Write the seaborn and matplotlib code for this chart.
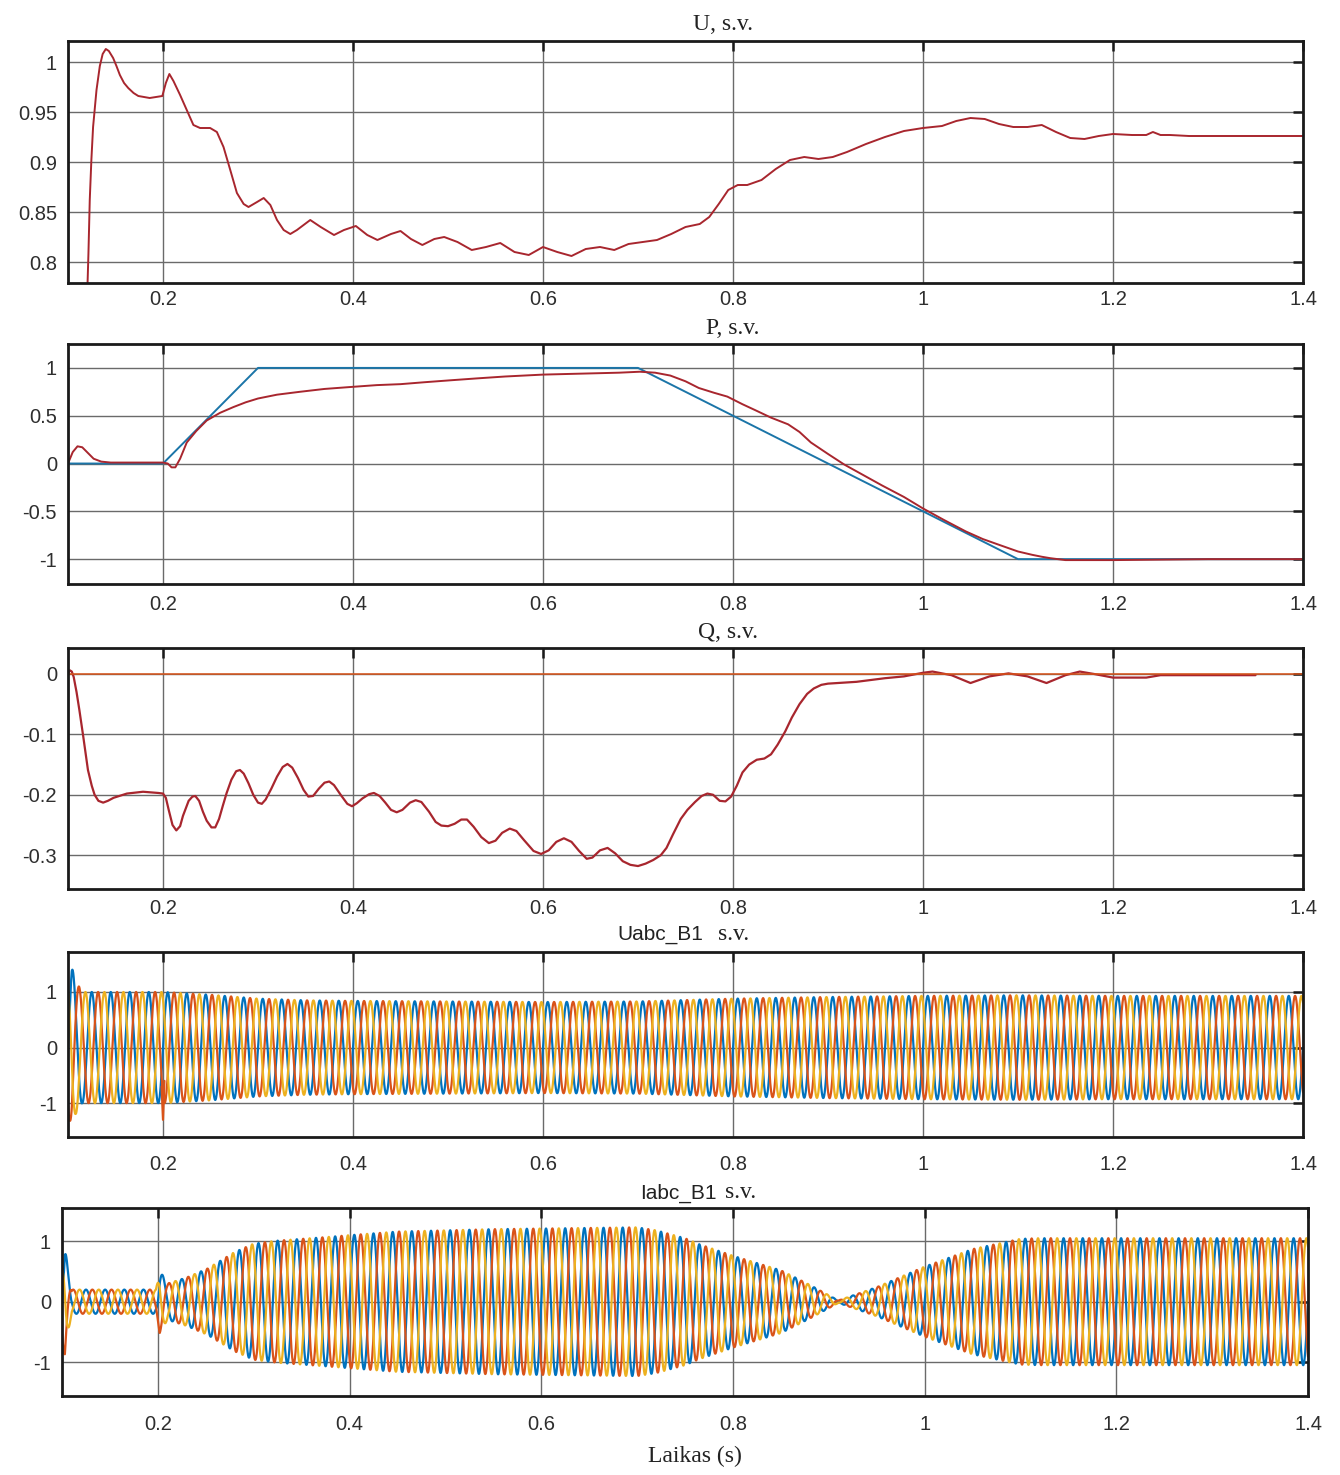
import numpy as np
import pandas as pd
import matplotlib
matplotlib.use("Agg")
import matplotlib.pyplot as plt
import seaborn as sns

# ---------------- data (per-unit, time in seconds) ----------------
# Bus voltage magnitude U
u_t = [0.1190, 0.1200, 0.1215, 0.1229, 0.1246, 0.1264, 0.1300, 0.1335, 0.1365, 0.1398,
       0.1430, 0.1475, 0.1510, 0.1546, 0.1590, 0.1634, 0.1690, 0.1740, 0.1860, 0.1993,
       0.2030, 0.2067, 0.2110, 0.2180, 0.2250, 0.2320, 0.2390, 0.2496, 0.2567, 0.2637,
       0.2708, 0.2778, 0.2849, 0.2900, 0.2990, 0.3060, 0.3130, 0.3200, 0.3270, 0.3340,
       0.3410, 0.3550, 0.3660, 0.3800, 0.3905, 0.4030, 0.4150, 0.4257, 0.4400, 0.4500,
       0.4610, 0.4730, 0.4856, 0.4960, 0.5100, 0.5250, 0.5400, 0.5550, 0.5700, 0.5850,
       0.6000, 0.6150, 0.6300, 0.6450, 0.6600, 0.6750, 0.6900, 0.7050, 0.7200, 0.7350,
       0.7500, 0.7650, 0.7750, 0.7850, 0.7950, 0.8050, 0.8150, 0.8300, 0.8450, 0.8600,
       0.8750, 0.8900, 0.9050, 0.9200, 0.9400, 0.9600, 0.9800, 1.0000, 1.0200, 1.0350,
       1.0500, 1.0650, 1.0800, 1.0950, 1.1100, 1.1250, 1.1400, 1.1550, 1.1700, 1.1850,
       1.2000, 1.2200, 1.2350, 1.2420, 1.2500, 1.2600, 1.2800, 1.3000, 1.3500, 1.4000]
u_v = [0.700, 0.760, 0.808, 0.862, 0.902, 0.935, 0.972, 0.996, 1.008, 1.013,
       1.011, 1.004, 0.996, 0.987, 0.979, 0.974, 0.969, 0.966, 0.964, 0.966,
       0.979, 0.988, 0.981, 0.967, 0.952, 0.937, 0.934, 0.934, 0.930, 0.915,
       0.892, 0.869, 0.858, 0.855, 0.860, 0.864, 0.857, 0.842, 0.832, 0.828,
       0.832, 0.842, 0.835, 0.827, 0.832, 0.836, 0.827, 0.822, 0.828, 0.831,
       0.823, 0.817, 0.823, 0.825, 0.820, 0.812, 0.815, 0.819, 0.810, 0.807,
       0.815, 0.810, 0.806, 0.813, 0.815, 0.812, 0.818, 0.820, 0.822, 0.828,
       0.835, 0.838, 0.845, 0.858, 0.872, 0.877, 0.877, 0.882, 0.893, 0.902,
       0.905, 0.903, 0.905, 0.910, 0.918, 0.925, 0.931, 0.934, 0.936, 0.941,
       0.944, 0.943, 0.938, 0.935, 0.935, 0.937, 0.930, 0.924, 0.923, 0.926,
       0.928, 0.927, 0.927, 0.930, 0.927, 0.927, 0.926, 0.926, 0.926, 0.926]

# Active power: reference and measured
p_ref_t = [0.10, 0.20, 0.30, 0.70, 1.10, 1.40]
p_ref_v = [0.0, 0.0, 1.0, 1.0, -1.0, -1.0]
p_t = [0.100, 0.105, 0.110, 0.115, 0.120, 0.127, 0.135, 0.145, 0.160, 0.180,
       0.200, 0.205, 0.209, 0.213, 0.218, 0.225, 0.235, 0.246, 0.260, 0.274,
       0.287, 0.300, 0.320, 0.344, 0.370, 0.397, 0.425, 0.450, 0.475, 0.502,
       0.530, 0.560, 0.600, 0.640, 0.680, 0.702, 0.718, 0.734, 0.750, 0.764,
       0.780, 0.794, 0.810, 0.823, 0.840, 0.858, 0.870, 0.882, 0.900, 0.917,
       0.937, 0.957, 0.980, 1.000, 1.022, 1.045, 1.063, 1.080, 1.100, 1.115,
       1.125, 1.134, 1.150, 1.200, 1.300, 1.400]
p_v = [0.00, 0.12, 0.18, 0.17, 0.12, 0.05, 0.02, 0.01, 0.01, 0.01,
       0.01, 0.00, -0.04, -0.04, 0.05, 0.22, 0.34, 0.45, 0.53, 0.59,
       0.64, 0.68, 0.72, 0.75, 0.78, 0.80, 0.82, 0.83, 0.85, 0.87,
       0.89, 0.91, 0.93, 0.94, 0.95, 0.96, 0.95, 0.92, 0.86, 0.79,
       0.74, 0.70, 0.62, 0.56, 0.48, 0.41, 0.33, 0.22, 0.10, -0.01,
       -0.12, -0.23, -0.35, -0.47, -0.59, -0.71, -0.79, -0.85, -0.92, -0.955,
       -0.975, -0.99, -1.01, -1.01, -1.00, -1.00]

# Reactive power: reference and measured
q_ref_t = [0.10, 1.40]
q_ref_v = [0.0, 0.0]
q_t = [0.100, 0.102, 0.104, 0.106, 0.109, 0.112, 0.116, 0.121, 0.125, 0.128,
       0.132, 0.137, 0.142, 0.148, 0.162, 0.179, 0.195, 0.200, 0.203, 0.206,
       0.210, 0.214, 0.218, 0.221, 0.227, 0.231, 0.234, 0.238, 0.242, 0.246,
       0.251, 0.255, 0.259, 0.263, 0.267, 0.272, 0.277, 0.281, 0.285, 0.290,
       0.295, 0.300, 0.304, 0.308, 0.314, 0.320, 0.326, 0.331, 0.336, 0.342,
       0.348, 0.353, 0.358, 0.364, 0.370, 0.375, 0.380, 0.387, 0.394, 0.399,
       0.404, 0.410, 0.417, 0.422, 0.428, 0.434, 0.440, 0.446, 0.452, 0.460,
       0.466, 0.472, 0.480, 0.487, 0.493, 0.500, 0.507, 0.514, 0.520, 0.527,
       0.535, 0.543, 0.550, 0.557, 0.565, 0.572, 0.580, 0.590, 0.598, 0.606,
       0.614, 0.622, 0.630, 0.638, 0.646, 0.652, 0.660, 0.668, 0.676, 0.684,
       0.692, 0.700, 0.708, 0.716, 0.724, 0.730, 0.737, 0.745, 0.752, 0.760,
       0.767, 0.773, 0.779, 0.786, 0.792, 0.798, 0.804, 0.810, 0.817, 0.825,
       0.833, 0.840, 0.847, 0.855, 0.862, 0.870, 0.878, 0.885, 0.893, 0.900,
       0.930, 0.960, 0.980, 1.000, 1.010, 1.030, 1.050, 1.070, 1.090, 1.110,
       1.130, 1.150, 1.165, 1.180, 1.200, 1.235, 1.250, 1.300, 1.350]
q_v = [0.000, 0.006, 0.004, -0.005, -0.030, -0.060, -0.103, -0.159, -0.185, -0.200,
       -0.210, -0.213, -0.210, -0.205, -0.198, -0.195, -0.197, -0.198, -0.205, -0.225,
       -0.250, -0.259, -0.252, -0.235, -0.210, -0.203, -0.202, -0.210, -0.228, -0.243,
       -0.254, -0.254, -0.240, -0.218, -0.197, -0.175, -0.161, -0.159, -0.165, -0.181,
       -0.200, -0.213, -0.215, -0.208, -0.190, -0.170, -0.154, -0.149, -0.155, -0.172,
       -0.192, -0.203, -0.202, -0.190, -0.180, -0.178, -0.184, -0.200, -0.215, -0.219,
       -0.214, -0.206, -0.199, -0.197, -0.202, -0.213, -0.225, -0.229, -0.225, -0.213,
       -0.209, -0.212, -0.228, -0.245, -0.251, -0.252, -0.248, -0.241, -0.241, -0.253,
       -0.270, -0.280, -0.276, -0.263, -0.256, -0.260, -0.275, -0.293, -0.298, -0.292,
       -0.278, -0.272, -0.278, -0.293, -0.306, -0.304, -0.292, -0.288, -0.297, -0.310,
       -0.316, -0.318, -0.314, -0.308, -0.300, -0.288, -0.265, -0.240, -0.225, -0.212,
       -0.202, -0.198, -0.200, -0.210, -0.211, -0.203, -0.185, -0.163, -0.150, -0.142,
       -0.140, -0.133, -0.117, -0.095, -0.072, -0.050, -0.033, -0.024, -0.018, -0.016,
       -0.013, -0.007, -0.004, 0.002, 0.004, -0.002, -0.015, -0.004, 0.001, -0.004,
       -0.015, -0.002, 0.004, 0.000, -0.006, -0.006, -0.002, -0.002, -0.002]

# Envelopes of the three-phase bus voltage and current
uabc_env_t = [0.100, 0.104, 0.108, 0.115, 0.200, 0.250, 0.300, 0.350, 0.400, 0.500,
              0.600, 0.700, 0.800, 0.900, 1.000, 1.100, 1.200, 1.400]
uabc_env_a = [1.20, 1.45, 1.20, 1.00, 1.00, 0.95, 0.88, 0.85, 0.84, 0.83,
              0.82, 0.83, 0.88, 0.91, 0.93, 0.94, 0.93, 0.93]
uabc_spike_t = [0.1985, 0.2000, 0.2015]
uabc_spike_v = [-0.70, -1.30, -0.60]

iabc_env_t = [0.100, 0.103, 0.106, 0.110, 0.198, 0.202, 0.210, 0.220, 0.230, 0.252,
              0.280, 0.300, 0.325, 0.377, 0.400, 0.450, 0.500, 0.550, 0.600, 0.650,
              0.700, 0.720, 0.750, 0.765, 0.800, 0.850, 0.880, 0.910, 0.950, 1.000,
              1.050, 1.100, 1.120, 1.400]
iabc_env_a = [0.60, 0.95, 0.55, 0.20, 0.20, 0.52, 0.30, 0.35, 0.40, 0.55,
              0.82, 0.96, 1.01, 1.07, 1.10, 1.16, 1.18, 1.20, 1.21, 1.22,
              1.23, 1.18, 1.05, 0.95, 0.76, 0.52, 0.28, 0.02, 0.24, 0.58,
              0.87, 1.04, 1.05, 1.05]

grid_freq = 50.0
phase_deg = [0.0, -120.0, 120.0]
phase_colors = ["#0072BD", "#D95319", "#EDB120"]

x_ticks = [0.2, 0.4, 0.6, 0.8, 1.0, 1.2, 1.4]
x_ticklabels = ["0.2", "0.4", "0.6", "0.8", "1", "1.2", "1.4"]
u_yticks = [0.8, 0.85, 0.9, 0.95, 1.0]
u_yticklabels = ["0.8", "0.85", "0.9", "0.95", "1"]
p_yticks = [-1.0, -0.5, 0.0, 0.5, 1.0]
p_yticklabels = ["-1", "-0.5", "0", "0.5", "1"]
q_yticks = [-0.3, -0.2, -0.1, 0.0]
q_yticklabels = ["-0.3", "-0.2", "-0.1", "0"]
abc_yticks = [-1.0, 0.0, 1.0]
abc_yticklabels = ["-1", "0", "1"]

# ---------------- styling ----------------
sns.set_theme(style="whitegrid")
plt.rcParams["font.family"] = ["Liberation Sans", "DejaVu Sans"]

W, H = 1340, 1475
fig = plt.figure(figsize=(W / 100, H / 100), dpi=100)
fig.patch.set_facecolor("white")


def box(l, r, t, b):
    return [l / W, 1 - b / H, (r - l) / W, (b - t) / H]


RED = "#a8262e"
SERIF = ["Liberation Serif", "DejaVu Serif"]


def style_axes(ax, ylim, yticks, yticklabels, xpad_px):
    ax.set_facecolor("white")
    ax.set_xlim(0.1, 1.4)
    ax.set_ylim(*ylim)
    ax.set_xticks(x_ticks)
    ax.set_xticklabels(x_ticklabels)
    ax.set_yticks(yticks)
    ax.set_yticklabels(yticklabels)
    ax.grid(True, color="#6a6a6a", lw=1.0)
    ax.set_axisbelow(True)
    ax.tick_params(axis="both", direction="in", top=True, right=True, length=7,
                   width=1.8, color="#1a1a1a", labelsize=14.5, labelcolor="#2e2e2e")
    ax.tick_params(axis="y", pad=8)
    ax.tick_params(axis="x", pad=xpad_px * 0.72)
    for sp in ax.spines.values():
        sp.set_visible(True)
        sp.set_color("#1a1a1a")
        sp.set_linewidth(2.0)
    ax.set_xlabel("")
    ax.set_ylabel("")


def line(ax, t, v, color, lw):
    df = pd.DataFrame({"t": t, "v": v})
    sns.lineplot(data=df, x="t", y="v", ax=ax, color=color, lw=lw,
                 estimator=None, sort=False, legend=False)


# time base for the three-phase waveforms
tt = np.arange(0.1, 1.4 + 1e-9, 1e-4)


def three_phase(env_t, env_a):
    amp = np.interp(tt, env_t, env_a)
    return [amp * np.sin(2 * np.pi * grid_freq * tt + np.deg2rad(ph)) for ph in phase_deg]


# Panel 1: U
ax1 = fig.add_axes(box(68, 1303, 41, 283))
line(ax1, u_t, u_v, RED, 1.4)
style_axes(ax1, (0.779, 1.021), u_yticks, u_yticklabels, 7)

# Panel 2: P
ax2 = fig.add_axes(box(68, 1303, 344, 584))
line(ax2, p_ref_t, p_ref_v, "#1b75a8", 1.4)
line(ax2, p_t, p_v, RED, 1.4)
style_axes(ax2, (-1.26, 1.25), p_yticks, p_yticklabels, 11)

# Panel 3: Q
ax3 = fig.add_axes(box(68, 1303, 648, 889))
line(ax3, q_t, q_v, RED, 1.6)
line(ax3, q_ref_t, q_ref_v, "#D95319", 1.1)
style_axes(ax3, (-0.356, 0.043), q_yticks, q_yticklabels, 10)

# Panel 4: Uabc_B1
ax4 = fig.add_axes(box(68, 1303, 952, 1137))
for wave, col in zip(three_phase(uabc_env_t, uabc_env_a), phase_colors):
    ax4.plot(tt, wave, color=col, lw=1.6)
ax4.plot(uabc_spike_t, uabc_spike_v, color=phase_colors[1], lw=1.6)
style_axes(ax4, (-1.61, 1.72), abc_yticks, abc_yticklabels, 18)

# Panel 5: Iabc_B1
ax5 = fig.add_axes(box(62, 1308, 1208, 1396))
for wave, col in zip(three_phase(iabc_env_t, iabc_env_a), phase_colors):
    ax5.plot(tt, wave, color=col, lw=1.6)
style_axes(ax5, (-1.56, 1.55), abc_yticks, abc_yticklabels, 19)


# Titles and axis label
def ftext(x, y, s, family, size):
    fig.text(x / W, 1 - y / H, s, ha="center", va="center", family=family,
             fontsize=size, color="#222222")


ftext(723, 24, "U, s.v.", SERIF, 17)
ftext(733, 329, "P, s.v.", SERIF, 17)
ftext(728, 633, "Q, s.v.", SERIF, 17)
ftext(660, 934, "Uabc_B1", ["Liberation Sans", "DejaVu Sans"], 15)
ftext(734, 934, "s.v.", SERIF, 17)
ftext(678, 1193, "Iabc_B1", ["Liberation Sans", "DejaVu Sans"], 15)
ftext(741, 1193, "s.v.", SERIF, 17)
ftext(695, 1456, "Laikas (s)", SERIF, 17)

fig.savefig("out.png", dpi=100, facecolor="white")
